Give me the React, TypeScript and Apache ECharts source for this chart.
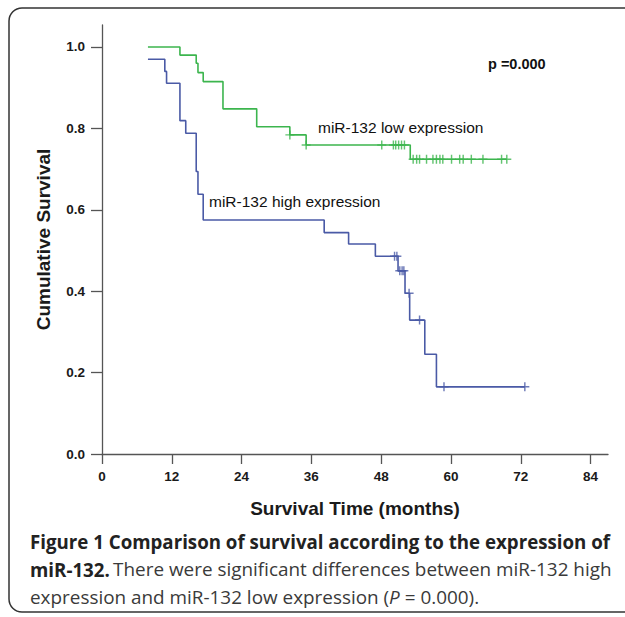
import React, { useEffect, useRef } from "react";
import * as echarts from "echarts";

const xTicks = [0, 12, 24, 36, 48, 60, 72, 84];
const yTicks = [0, 0.2, 0.4, 0.6, 0.8, 1.0];

// Kaplan-Meier steps: [months, cumulative survival]
const lowSteps: [number, number][] = [
  [7.9, 1.0], [13.4, 0.98], [16.2, 0.96], [16.5, 0.937], [17.4, 0.915],
  [20.8, 0.848], [26.6, 0.804], [32.3, 0.784], [35.1, 0.759], [53.0, 0.724],
  [69.6, 0.724],
];
const lowCensored: [number, number][] = [
  [32.3, 0.784], [35.1, 0.759], [48.1, 0.759], [50.1, 0.759], [50.5, 0.759],
  [51.0, 0.759], [51.5, 0.759], [52.0, 0.759],
  [53.5, 0.724], [54.1, 0.724], [54.6, 0.724], [55.8, 0.724], [56.9, 0.724],
  [57.5, 0.724], [58.1, 0.724], [58.6, 0.724], [60.1, 0.724], [61.5, 0.724],
  [62.1, 0.724], [63.5, 0.724], [65.5, 0.724], [68.7, 0.724], [69.6, 0.724],
];
const highSteps: [number, number][] = [
  [7.9, 0.97], [10.8, 0.94], [11.1, 0.911], [13.4, 0.819], [14.4, 0.788],
  [16.2, 0.694], [16.5, 0.638], [17.4, 0.575], [38.2, 0.544], [42.4, 0.516],
  [47.0, 0.486], [50.9, 0.45], [52.1, 0.395], [52.9, 0.329], [55.5, 0.245],
  [57.5, 0.165], [72.7, 0.165],
];
const highCensored: [number, number][] = [
  [50.3, 0.486], [50.7, 0.486], [51.2, 0.45], [51.6, 0.45], [51.9, 0.45],
  [52.8, 0.395], [54.6, 0.329], [58.8, 0.165], [72.7, 0.165],
];

const GREEN = "#3cb54e";
const BLUE = "#4a5aa6";
const PLUS = "path://M4.2,0H5.8V4.2H10V5.8H5.8V10H4.2V5.8H0V4.2H4.2Z";

export default function App() {
  const ref = useRef<HTMLDivElement>(null);
  useEffect(() => {
    if (!ref.current) return;
    const chart = echarts.init(ref.current, undefined, { renderer: "svg" });
    const axisFont = {
      fontFamily: "Liberation Sans, Arial, sans-serif",
      fontWeight: "bold" as const,
      color: "#1a1a1a",
    };
    chart.setOption({
      animation: false,
      backgroundColor: "#ffffff",
      grid: { left: 102, right: 17, top: 25, bottom: 163, containLabel: false },
      xAxis: {
        type: "value",
        min: 0,
        max: 87,
        name: "Survival Time (months)",
        nameLocation: "middle",
        nameGap: 45,
        nameTextStyle: { ...axisFont, fontSize: 19 },
        axisLine: { show: true, lineStyle: { color: "#555", width: 1.3 } },
        axisTick: { show: true, inside: false, length: 10, customValues: xTicks, lineStyle: { color: "#555", width: 1.3 } },
        axisLabel: { customValues: xTicks, margin: 15, fontSize: 13.5, ...axisFont },
        splitLine: { show: false },
      },
      yAxis: {
        type: "value",
        min: 0,
        max: 1.054,
        name: "Cumulative Survival",
        nameLocation: "middle",
        nameGap: 49,
        nameTextStyle: { ...axisFont, fontSize: 19 },
        axisLine: { show: true, lineStyle: { color: "#555", width: 1.3 } },
        axisTick: { show: true, inside: false, length: 11, customValues: yTicks, lineStyle: { color: "#555", width: 1.3 } },
        axisLabel: {
          customValues: yTicks,
          margin: 17,
          fontSize: 13.5,
          ...axisFont,
          formatter: (v: number) => v.toFixed(1),
        },
        splitLine: { show: false },
      },
      series: [
        {
          type: "line",
          step: "end",
          data: lowSteps,
          showSymbol: false,
          lineStyle: { color: GREEN, width: 1.6 },
          itemStyle: { color: GREEN },
          z: 3,
        },
        {
          type: "line",
          step: "end",
          data: highSteps,
          showSymbol: false,
          lineStyle: { color: BLUE, width: 1.6 },
          itemStyle: { color: BLUE },
          z: 3,
        },
        {
          type: "scatter",
          data: lowCensored,
          symbol: PLUS,
          symbolSize: 9,
          itemStyle: { color: GREEN },
          z: 4,
        },
        {
          type: "scatter",
          data: highCensored,
          symbol: PLUS,
          symbolSize: 9,
          itemStyle: { color: BLUE },
          z: 4,
        },
      ],
      graphic: [
        {
          type: "rect",
          shape: { x: 9, y: 8, width: 650, height: 604, r: 13 },
          style: { fill: "none", stroke: "#333", lineWidth: 1.5 },
          silent: true,
          z: 10,
        },
        {
          type: "text",
          x: 488,
          y: 64,
          style: {
            text: "p =0.000",
            fontFamily: "Liberation Sans, Arial, sans-serif",
            fontWeight: "bold",
            fontSize: 14.5,
            fill: "#111",
            verticalAlign: "middle",
          },
        },
        {
          type: "text",
          x: 318,
          y: 127,
          style: {
            text: "miR-132 low expression",
            fontFamily: "Liberation Sans, Arial, sans-serif",
            fontSize: 15.5,
            fill: "#111",
            verticalAlign: "middle",
          },
        },
        {
          type: "text",
          x: 209,
          y: 201,
          style: {
            text: "miR-132 high expression",
            fontFamily: "Liberation Sans, Arial, sans-serif",
            fontSize: 15.5,
            fill: "#111",
            verticalAlign: "middle",
          },
        },
        {
          type: "text",
          x: 30,
          y: 541,
          style: {
            text: "Figure 1 Comparison of survival according to the expression of",
            fontFamily: "Open Sans, sans-serif",
            fontWeight: "bold",
            fontSize: 18.7,
            fill: "#222",
            verticalAlign: "middle",
          },
        },
        {
          type: "text",
          x: 30,
          y: 569,
          style: {
            text: "{b|miR-132.} {r|There were significant differences between miR-132 high}",
            verticalAlign: "middle",
            rich: {
              b: { fontFamily: "Open Sans, sans-serif", fontWeight: "bold", fontSize: 18.7, fill: "#222" },
              r: { fontFamily: "Open Sans, sans-serif", fontSize: 18.9, fill: "#3a3a3a" },
            },
          },
        },
        {
          type: "text",
          x: 30,
          y: 597,
          style: {
            text: "{r|expression and miR-132 low expression (}{i|P}{r| = 0.000).}",
            verticalAlign: "middle",
            rich: {
              r: { fontFamily: "Open Sans, sans-serif", fontSize: 18.9, fill: "#3a3a3a" },
              i: { fontFamily: "Open Sans, sans-serif", fontStyle: "italic", fontSize: 18.9, fill: "#3a3a3a" },
            },
          },
        },
      ],
    });
    return () => chart.dispose();
  }, []);
  return (
    <div
      ref={ref}
      style={{ position: "fixed", left: 0, top: 0, width: 625, height: 617, background: "#fff" }}
    />
  );
}
